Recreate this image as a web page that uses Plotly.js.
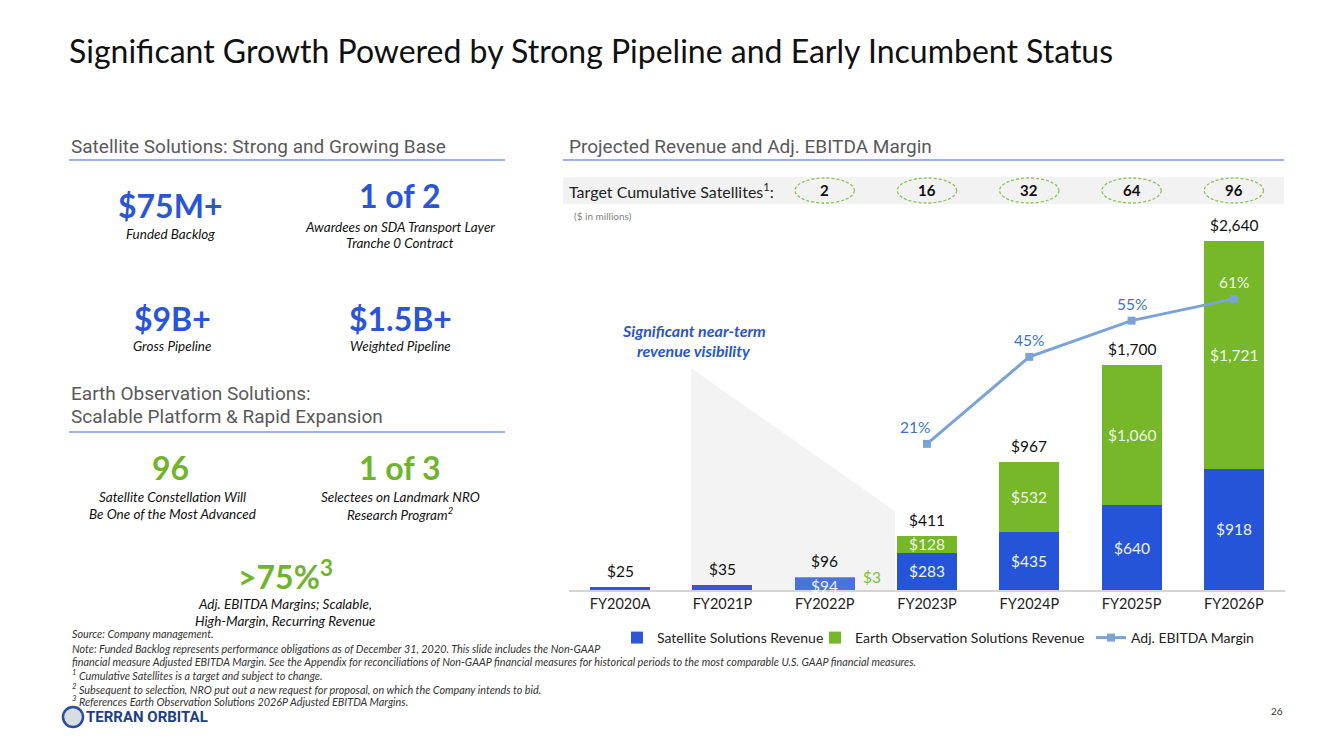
<!DOCTYPE html>
<html>
<head>
<meta charset="utf-8">
<script src="https://cdn.plot.ly/plotly-3.0.1.min.js"></script>
<style>html,body{margin:0;padding:0;background:#fff;}#chart{width:1333px;height:750px;}</style>
</head>
<body>
<div id="chart"></div>
<script>
// ---- data ----
const categories = ['FY2020A','FY2021P','FY2022P','FY2023P','FY2024P','FY2025P','FY2026P'];
const satelliteRevenue = [25, 35, 94, 283, 435, 640, 918];
const earthObsRevenue = [0, 0, 3, 128, 532, 1060, 1721];
const totalRevenue = [25, 35, 96, 411, 967, 1700, 2640];
const ebitdaMargin = [null, null, null, 21, 45, 55, 61];
const targetSatellites = [null, null, 2, 16, 32, 64, 96];

// ---- geometry helpers (pixel -> paper) ----
const W = 1333, H = 750;
const L = 569, R = 1285, T = 200, B = 590;
const X = px => (px - L) / (R - L);
const Y = py => (B - py) / (B - T);

const CAL = 'Lato, "Noto Sans", sans-serif';
const ROB = 'Roboto, sans-serif';
const BLUE = '#2554d8', GREEN = '#76b82a', LINE = '#7ba3d6';

const fmt = v => '$' + v.toLocaleString('en-US');

const traces = [
  {type:'bar', name:'Satellite Solutions Revenue', x:categories, y:satelliteRevenue, legend:'legend',
   marker:{color:['#2f56d6','#3459d6','#4a72db',BLUE,BLUE,BLUE,BLUE]}, hoverinfo:'skip'},
  {type:'bar', name:'Earth Observation Solutions Revenue', x:categories, y:earthObsRevenue, legend:'legend2',
   marker:{color:GREEN}, hoverinfo:'skip'},
  {type:'scatter', mode:'lines+markers', name:'Adj. EBITDA Margin', x:categories, y:ebitdaMargin, legend:'legend3',
   yaxis:'y2', line:{color:LINE, width:3}, marker:{symbol:'square', size:8, color:LINE},
   connectgaps:false, hoverinfo:'skip'}
];

const ann = [];
const shapes = [];
const txt = (x, y, text, o={}) => ann.push(Object.assign({xref:'paper', yref:'paper', x:X(x), y:Y(y), text,
  showarrow:false, xanchor:'center', yanchor:'middle', font:{family:CAL, size:12, color:'#222'}}, o));

// title
txt(67, 50, 'Significant Growth Powered by Strong Pipeline and Early Incumbent Status',
  {xanchor:'left', font:{family:CAL, size:32, color:'#111'}});

// section headers
const HF = {family:ROB, size:19, color:'#595959'};
txt(69, 146, 'Satellite Solutions: Strong and Growing Base', {xanchor:'left', font:HF});
txt(567, 146, 'Projected Revenue and Adj. EBITDA Margin', {xanchor:'left', font:HF});
txt(69, 393, 'Earth Observation Solutions:', {xanchor:'left', font:HF});
txt(69, 416, 'Scalable Platform &amp; Rapid Expansion', {xanchor:'left', font:HF});
const hline = (x0, x1, y) => shapes.push({type:'line', xref:'paper', yref:'paper', x0:X(x0), x1:X(x1), y0:Y(y), y1:Y(y), line:{color:'#7e97d8', width:1.5}});
hline(69, 505, 160); hline(563, 1284, 160); hline(69, 505, 432);

// left KPIs
const kpi = (x, y, t, c) => txt(x, y, '<b>' + t + '</b>', {font:{family:CAL, size:32, color:c}});
const sub = (x, y, t) => txt(x, y, '<i>' + t + '</i>', {font:{family:CAL, size:13.5, color:'#111'}});
kpi(170, 206, '$75M+', '#2b55d6'); sub(170, 234, 'Funded Backlog');
kpi(400, 195, '1 of 2', '#2b55d6'); sub(400, 227, 'Awardees on SDA Transport Layer'); sub(400, 243, 'Tranche 0 Contract');
kpi(172, 318, '$9B+', '#2b55d6'); sub(172, 346, 'Gross Pipeline');
kpi(400, 318, '$1.5B+', '#2b55d6'); sub(400, 346, 'Weighted Pipeline');
kpi(170, 467, '96', '#6fb52c'); sub(172, 497, 'Satellite Constellation Will'); sub(172, 514, 'Be One of the Most Advanced');
kpi(400, 467, '1 of 3', '#6fb52c'); sub(400, 497, 'Selectees on Landmark NRO'); sub(400, 514, 'Research Program<sup>2</sup>');
kpi(285, 575, '&gt;75%<sup>3</sup>', '#6fb52c'); sub(285, 604, 'Adj. EBITDA Margins; Scalable,'); sub(285, 621, 'High-Margin, Recurring Revenue');

// footnotes
const foot = [
  [633, 'Source: Company management.'],
  [648, 'Note: Funded Backlog represents performance obligations as of December 31, 2020. This slide includes the Non-GAAP'],
  [661, 'financial measure Adjusted EBITDA Margin. See the Appendix for reconciliations of Non-GAAP financial measures for historical periods to the most comparable U.S. GAAP financial measures.'],
  [675, '<sup>1</sup> Cumulative Satellites is a target and subject to change.'],
  [689, '<sup>2</sup> Subsequent to selection, NRO put out a new request for proposal, on which the Company intends to bid.'],
  [701, '<sup>3</sup> References Earth Observation Solutions 2026P Adjusted EBITDA Margins.']
];
foot.forEach(f => txt(70, f[0], '<i>' + f[1] + '</i>', {xanchor:'left', font:{family:CAL, size:10.8, color:'#333'}}));

// logo + page number
shapes.push({type:'circle', xref:'paper', yref:'paper', x0:X(63), x1:X(83), y0:Y(727), y1:Y(707), line:{color:'#2a4e9a', width:2.5}, fillcolor:'#d9dde3'});
txt(84, 717, '<b>TERRAN ORBITAL</b>', {xanchor:'left', font:{family:'"Liberation Sans Narrow", Roboto, sans-serif', size:15, color:'#1e3f86'}});
txt(1277, 711, '26', {font:{family:CAL, size:10, color:'#333'}});

// target satellites band
shapes.push({type:'rect', xref:'paper', yref:'paper', x0:X(563), x1:X(1284), y0:Y(204), y1:Y(177), fillcolor:'#f2f2f2', line:{width:0}, layer:'below'});
txt(567, 190, 'Target Cumulative Satellites<sup>1</sup>:', {xanchor:'left', font:{family:CAL, size:16, color:'#222'}});
categories.forEach((c, i) => {
  if (targetSatellites[i] == null) return;
  shapes.push({type:'circle', xref:'x', yref:'paper', x0:i - 0.29, x1:i + 0.29, y0:Y(203), y1:Y(178),
    line:{color:'#8cc35a', width:1.3, dash:'3px,2px'}});
  ann.push({xref:'x', yref:'paper', x:c, y:Y(190), yanchor:'middle', text:'<b>' + targetSatellites[i] + '</b>', showarrow:false,
    font:{family:CAL, size:15, color:'#111'}});
});
txt(572, 216, '($ in millions)', {xanchor:'left', font:{family:CAL, size:10, color:'#7f7f7f'}});

// visibility wedge
shapes.push({type:'path', xref:'paper', yref:'paper', layer:'below', fillcolor:'#f3f3f3', line:{width:0},
  path:`M ${X(691)} ${Y(368)} L ${X(895)} ${Y(511)} L ${X(895)} ${Y(590)} L ${X(691)} ${Y(590)} Z`});
txt(694, 330, '<b><i>Significant near-term</i></b>', {font:{family:CAL, size:16, color:'#2b55c8'}});
txt(694, 350, '<b><i>revenue visibility</i></b>', {font:{family:CAL, size:16, color:'#2b55c8'}});

// totals
categories.forEach((c, i) => {
  ann.push({xref:'x', yref:'y', x:c, y:totalRevenue[i], yshift:16, text:fmt(totalRevenue[i]), showarrow:false,
    font:{family:CAL, size:15.5, color:'#111'}});
});
// segment labels
categories.forEach((c, i) => {
  if (i >= 2) ann.push({xref:'x', yref:'y', x:c, y:satelliteRevenue[i] / 2, yshift: i === 2 ? -2 : 0,
    text:fmt(satelliteRevenue[i]), showarrow:false, font:{family:CAL, size:15.5, color:'#eef2fc'}});
  if (i >= 3) ann.push({xref:'x', yref:'y', x:c, y:satelliteRevenue[i] + earthObsRevenue[i] / 2,
    text:fmt(earthObsRevenue[i]), showarrow:false, font:{family:CAL, size:15.5, color:'#eef6e4'}});
});
ann.push({xref:'x', yref:'y', x:categories[2], xshift:47, y:earthObsRevenue[2], yanchor:'bottom', yshift:2,
  text:fmt(earthObsRevenue[2]), showarrow:false, font:{family:CAL, size:15.5, color:'#7cbf3a'}});
// margin labels
categories.forEach((c, i) => {
  if (ebitdaMargin[i] == null) return;
  ann.push({xref:'x', yref:'y2', x:c, y:ebitdaMargin[i], yshift:17, xshift: i === 3 ? -12 : 0,
    text:ebitdaMargin[i] + '%', showarrow:false,
    font:{family:CAL, size:15.5, color: i === 6 ? '#eef6e4' : '#3b74c6'}});
});

const legBase = {orientation:'h', yanchor:'middle', xanchor:'left', y:Y(638),
  font:{family:CAL, size:14, color:'#222'}, itemwidth:30, bgcolor:'rgba(0,0,0,0)'};
const layout = {
  width:W, height:H, margin:{l:L, r:W - R, t:T, b:H - B}, paper_bgcolor:'#fff', plot_bgcolor:'rgba(0,0,0,0)',
  barmode:'stack', bargap:0.413, showlegend:true,
  xaxis:{type:'category', showgrid:false, zeroline:false, showline:true, linecolor:'#d4d4d4', linewidth:1.5,
    ticks:'', tickfont:{family:CAL, size:14.5, color:'#222'}, fixedrange:true},
  yaxis:{range:[0, 2950], visible:false, fixedrange:true},
  yaxis2:{range:[-19.31, 88.28], overlaying:'y', visible:false, fixedrange:true},
  legend:Object.assign({}, legBase, {x:X(617)}),
  legend2:Object.assign({}, legBase, {x:X(815)}),
  legend3:Object.assign({}, legBase, {x:X(1091)}),
  annotations:ann, shapes:shapes
};

Plotly.newPlot('chart', traces, layout, {displayModeBar:false, staticPlot:true});
</script>
</body>
</html>
